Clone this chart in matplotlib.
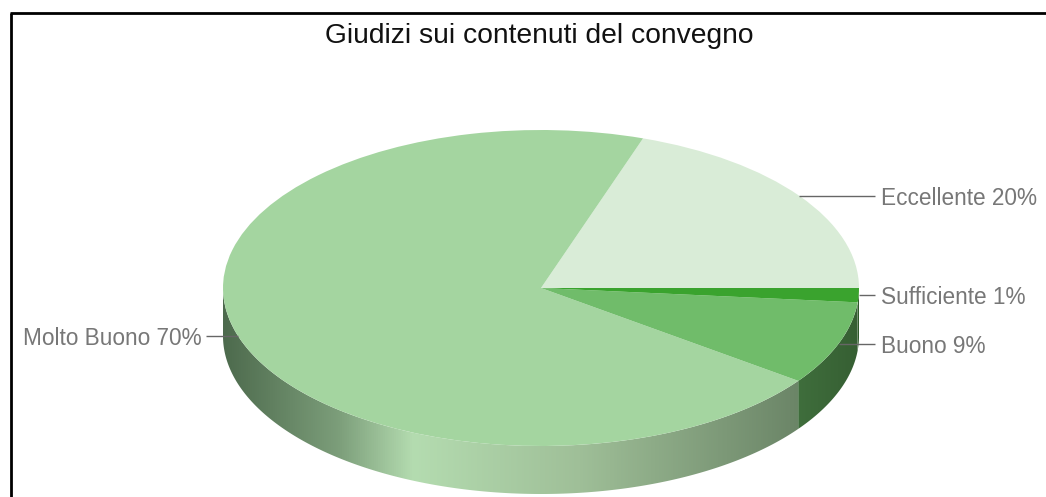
import numpy as np
import matplotlib
matplotlib.use('Agg')
import matplotlib.pyplot as plt
from matplotlib.colors import LinearSegmentedColormap
from matplotlib.patches import Polygon

labels = ['Eccellente 20%', 'Molto Buono 70%', 'Buono 9%', 'Sufficiente 1%']
values = [19.8, 70.2, 8.55, 1.45]
colors = ['#d9ecd7', '#a4d5a0', '#70bc6a', '#3aa32e']

W, H = 1046, 497
cx, cy, rx, ry, depth = 541, 288, 318, 158, 48

plt.rcParams['font.family'] = ['Liberation Sans', 'DejaVu Sans']
fig = plt.figure(figsize=(W / 100, H / 100), dpi=100)
ax = fig.add_axes([0, 0, 1, 1])

wedges, _ = ax.pie(values, colors=colors, startangle=0, counterclock=True,
                   radius=1, wedgeprops={'linewidth': 0, 'zorder': 3})
ax.set_aspect('auto')

# pixels -> data, x is scaled with rx and y with ry so the pie turns into an ellipse
xlim = (-cx / rx, (W - cx) / rx)
ylim = ((cy - H) / ry, cy / ry)


def px(x):
    return (x - cx) / rx


def py(y):
    return (cy - y) / ry


# side wall, only the part of each slice that faces down
d = depth / ry
walls = {
    1: ['#4d6a4d', '#7c9e7a', '#b4dcb0', '#9fbf98', '#6b8567'],
    2: ['#3f6e3c', '#365f33'],
    3: ['#2f5a2b', '#2f5a2b'],
}
stops = {
    1: [0, 0.2, 0.33, 0.62, 1],
    2: [0, 1],
    3: [0, 1],
}
for i, w in enumerate(wedges):
    if i not in walls:
        continue
    t1, t2 = w.theta1, w.theta2
    t1, t2 = max(t1, 180), min(t2, 360)
    t = np.radians(np.linspace(t1, t2, 200))
    xs = np.cos(t)
    ys = np.sin(t)
    poly = np.vstack([np.c_[xs, ys], np.c_[xs[::-1], ys[::-1] - d]])
    patch = Polygon(poly, closed=True, fc='none', ec='none')
    ax.add_patch(patch)
    cmap = LinearSegmentedColormap.from_list('w%d' % i, list(zip(stops[i], walls[i])))
    im = ax.imshow(np.linspace(0, 1, 512).reshape(1, -1), cmap=cmap, aspect='auto',
                   extent=(xs.min(), xs.max(), ys.min() - d, ys.max()), zorder=2)
    im.set_clip_path(patch)

# leader lines start at the middle of each slice
for w, lab in zip(wedges, labels):
    mid = np.radians((w.theta1 + w.theta2) / 2)
    x0, y0 = np.cos(mid), np.sin(mid)
    right = x0 > 0
    x1 = px(875) if right else px(206)
    ax.plot([x0, x1], [y0, y0], color='#666666', lw=1.0, zorder=4, solid_capstyle='butt')
    ax.text(px(881) if right else px(202), y0, lab, fontsize=16.3, color='#777777',
            ha='left' if right else 'right', va='center_baseline', zorder=5)

ax.text(px(539.5), py(33), 'Giudizi sui contenuti del convegno', fontsize=20.3,
        color='#111111', ha='center', va='center_baseline')

# black frame of the source screenshot
ax.plot([px(11), px(11)], [py(497), py(13)], color='black', lw=2.0, solid_capstyle='butt', zorder=6)
ax.plot([px(10), px(W)], [py(13), py(13)], color='black', lw=2.0, solid_capstyle='butt', zorder=6)

ax.set_xlim(xlim)
ax.set_ylim(ylim)
ax.axis('off')

fig.savefig('out.png', dpi=100)
